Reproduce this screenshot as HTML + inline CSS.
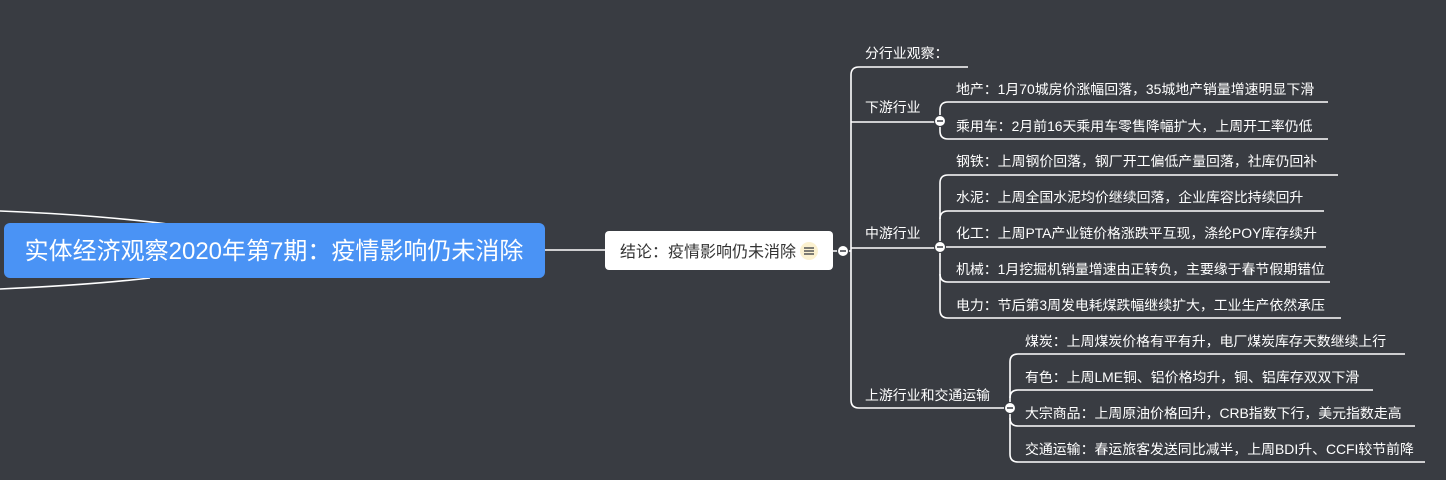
<!DOCTYPE html>
<html><head><meta charset="utf-8"><style>
body{margin:0;background:#393c42;width:1446px;height:480px;overflow:hidden}
svg{display:block}
text{font-family:"Liberation Sans","Noto Sans CJK SC",sans-serif;fill:#fff;font-size:13.9px}
</style></head><body>
<svg width="1446" height="480" viewBox="0 0 1446 480">
<g fill="none" stroke="#fff" stroke-width="1.6">
<path d="M0 211 Q100 215 175 225"/>
<path d="M0 289 Q90 285 150 278"/>
<path d="M545 250 H605"/>
<path d="M833 251 H851"/>
<path d="M968 67 H859 Q851 67 851 75 V400 Q851 408 859 408 H1008"/>
<path d="M851 122 H940"/>
<path d="M851 248 H940"/>
<path d="M1328 102 H948 Q940 102 940 110 V131 Q940 139 948 139 H1328"/>
<path d="M1338 175 H948 Q940 175 940 183 V310 Q940 318 948 318 H1341"/>
<path d="M1324 211 H948 Q940 211 940 219"/>
<path d="M1326 247 H940"/>
<path d="M1330 282 H948 Q940 282 940 274"/>
<path d="M1405 354 H1018 Q1010 354 1010 362 V454 Q1010 462 1018 462 H1425"/>
<path d="M1373 390 H1018 Q1010 390 1010 398"/>
<path d="M1415 426 H1018 Q1010 426 1010 418"/>
</g>
<rect x="4" y="223" width="541" height="55" rx="6" fill="#4a93f5"/>
<text x="274" y="259" text-anchor="middle" style="font-size:24px">实体经济观察2020年第7期：疫情影响仍未消除</text>
<rect x="605" y="231" width="228" height="39" rx="4" fill="#fff"/>
<text x="620" y="257" style="fill:#333;font-size:16px">结论：疫情影响仍未消除</text>
<circle cx="809" cy="251" r="9" fill="#fbf1d0"/>
<g stroke="#555" stroke-width="1.5"><path d="M804 248 H814 M804 251 H814 M804 254 H814"/></g>
<g fill="#fff" stroke="#393c42" stroke-width="1">
<circle cx="843" cy="251" r="5.5"/><circle cx="940" cy="121" r="5.5"/><circle cx="940" cy="247" r="5.5"/><circle cx="1010" cy="408" r="5.5"/>
</g>
<g stroke="#393c42" stroke-width="1.5"><path d="M840 251H846 M937 121H943 M937 247H943 M1007 408H1013"/></g>
<text x="865" y="58">分行业观察：</text>
<text x="865" y="112">下游行业</text>
<text x="865" y="238">中游行业</text>
<text x="865" y="400">上游行业和交通运输</text>
<text x="956" y="94">地产：1月70城房价涨幅回落，35城地产销量增速明显下滑</text>
<text x="956" y="131">乘用车：2月前16天乘用车零售降幅扩大，上周开工率仍低</text>
<text x="956" y="166">钢铁：上周钢价回落，钢厂开工偏低产量回落，社库仍回补</text>
<text x="956" y="202">水泥：上周全国水泥均价继续回落，企业库容比持续回升</text>
<text x="956" y="238">化工：上周PTA产业链价格涨跌平互现，涤纶POY库存续升</text>
<text x="956" y="274">机械：1月挖掘机销量增速由正转负，主要缘于春节假期错位</text>
<text x="956" y="310">电力：节后第3周发电耗煤跌幅继续扩大，工业生产依然承压</text>
<text x="1025" y="346">煤炭：上周煤炭价格有平有升，电厂煤炭库存天数继续上行</text>
<text x="1025" y="382">有色：上周LME铜、铝价格均升，铜、铝库存双双下滑</text>
<text x="1025" y="418">大宗商品：上周原油价格回升，CRB指数下行，美元指数走高</text>
<text x="1025" y="454">交通运输：春运旅客发送同比减半，上周BDI升、CCFI较节前降</text>
</svg>
</body></html>
